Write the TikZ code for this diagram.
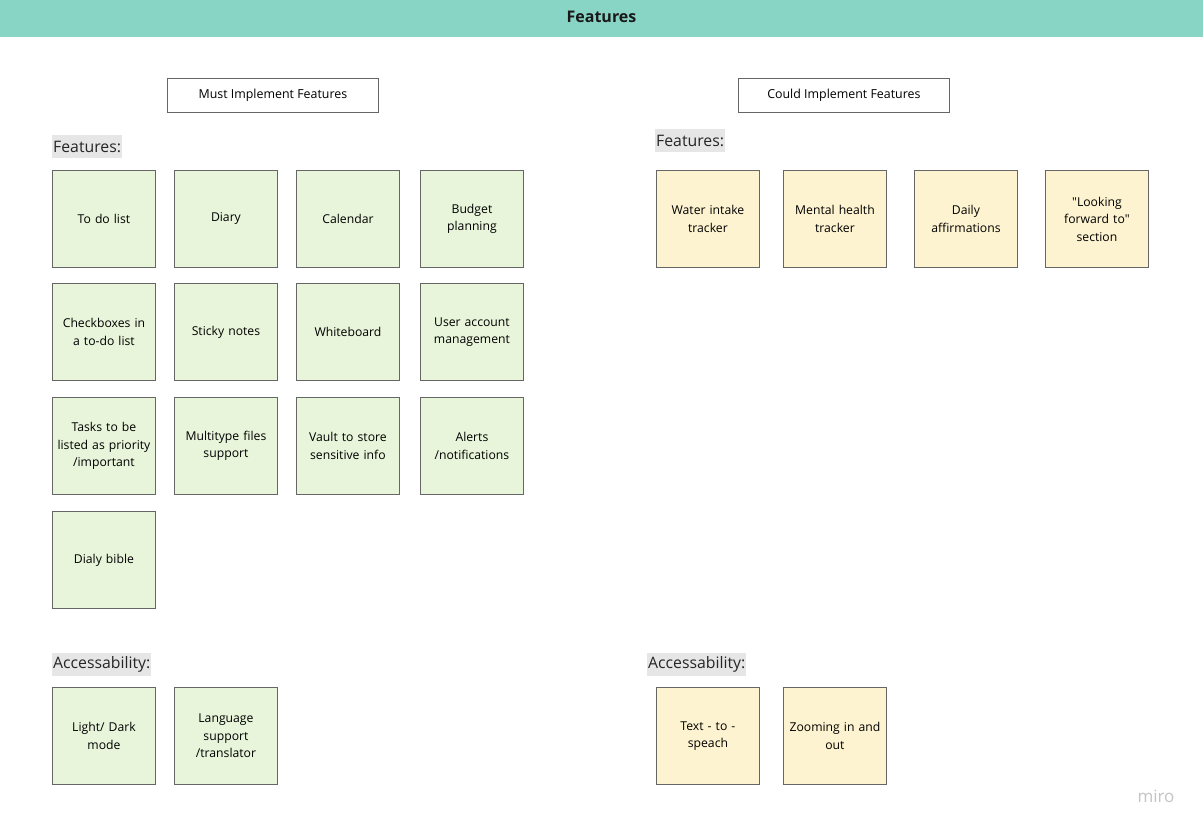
\documentclass[tikz,border=0pt]{standalone}
\usepackage{fontspec}
\setmainfont{Open Sans}[Ligatures=TeXOff]
\definecolor{header}{HTML}{88D4C5}
\definecolor{gnote}{HTML}{E8F5DA}
\definecolor{ynote}{HTML}{FEF3D0}
\definecolor{nborder}{HTML}{666666}
\definecolor{lblbg}{HTML}{E6E6E6}
\definecolor{mirogray}{HTML}{C4C4C4}
\tikzset{
  note/.style={draw=nborder, line width=0.9pt, minimum width=103pt, minimum height=97pt, inner sep=0pt,
    text width=100pt, align=center, font=\fontsize{12.2}{17.5}\selectfont, anchor=north west},
  gn/.style={note, fill=gnote},
  yn/.style={note, fill=ynote},
  titlebox/.style={draw=nborder, line width=0.8pt, fill=white, minimum width=211pt, minimum height=34pt,
    anchor=north west, inner sep=0pt, font=\fontsize{12.4}{14}\selectfont},
  seclabel/.style={fill=lblbg, anchor=north west, inner xsep=1pt, inner ysep=0pt, minimum height=23pt,
    font=\fontsize{15.8}{18}\selectfont, text=black!85}
}
\begin{document}
\begin{tikzpicture}[x=1pt, y=-1pt]
\useasboundingbox (0,0) rectangle (1203,831);
\fill[white] (0,0) rectangle (1203,831);
\fill[header] (0,0) rectangle (1203,37);
\node[font=\fontsize{16}{18}\selectfont\bfseries, text=black!90] (title) at (601.5,16.5) {Features};

\node[titlebox] (must) at (167,78) {Must Implement Features};
\node[titlebox] (could) at (738,78) {Could Implement Features};

\node[seclabel] (featL) at (52,135) {Features:};
\node[seclabel] (featR) at (655,129) {Features:};
\node[seclabel] (accL) at (52,653) {Accessability:};
\node[seclabel] (accR) at (647,653) {Accessability:};

% Must implement features
\node[gn] (n11) at (52,170) {To do list};
\node[gn] (n12) at (174,170) {Diary};
\node[gn] (n13) at (296,170) {Calendar};
\node[gn] (n14) at (420,170) {Budget\\planning};
\node[gn] (n21) at (52,283) {Checkboxes in\\a to-do list};
\node[gn] (n22) at (174,283) {Sticky notes};
\node[gn] (n23) at (296,283) {Whiteboard};
\node[gn] (n24) at (420,283) {User account\\management};
\node[gn] (n31) at (52,397) {Tasks to be\\listed as priority\\/important};
\node[gn] (n32) at (174,397) {Multitype files\\support};
\node[gn] (n33) at (296,397) {Vault to store\\sensitive info};
\node[gn] (n34) at (420,397) {Alerts\\/notifications};
\node[gn] (n41) at (52,511) {Dialy bible};

\node[gn] (a1) at (52,687) {Light/ Dark\\mode};
\node[gn] (a2) at (174,687) {Language\\support\\/translator};

% Could implement features
\node[yn] (c1) at (656,170) {Water intake\\tracker};
\node[yn] (c2) at (783,170) {Mental health\\tracker};
\node[yn] (c3) at (914,170) {Daily\\affirmations};
\node[yn] (c4) at (1045,170) {"Looking\\forward to"\\section};

\node[yn] (b1) at (656,687) {Text - to -\\speach};
\node[yn] (b2) at (783,687) {Zooming in and\\out};

\node[text=mirogray, font=\fontsize{17}{19}\selectfont] (miro) at (1156,796) {miro};
\end{tikzpicture}
\end{document}
